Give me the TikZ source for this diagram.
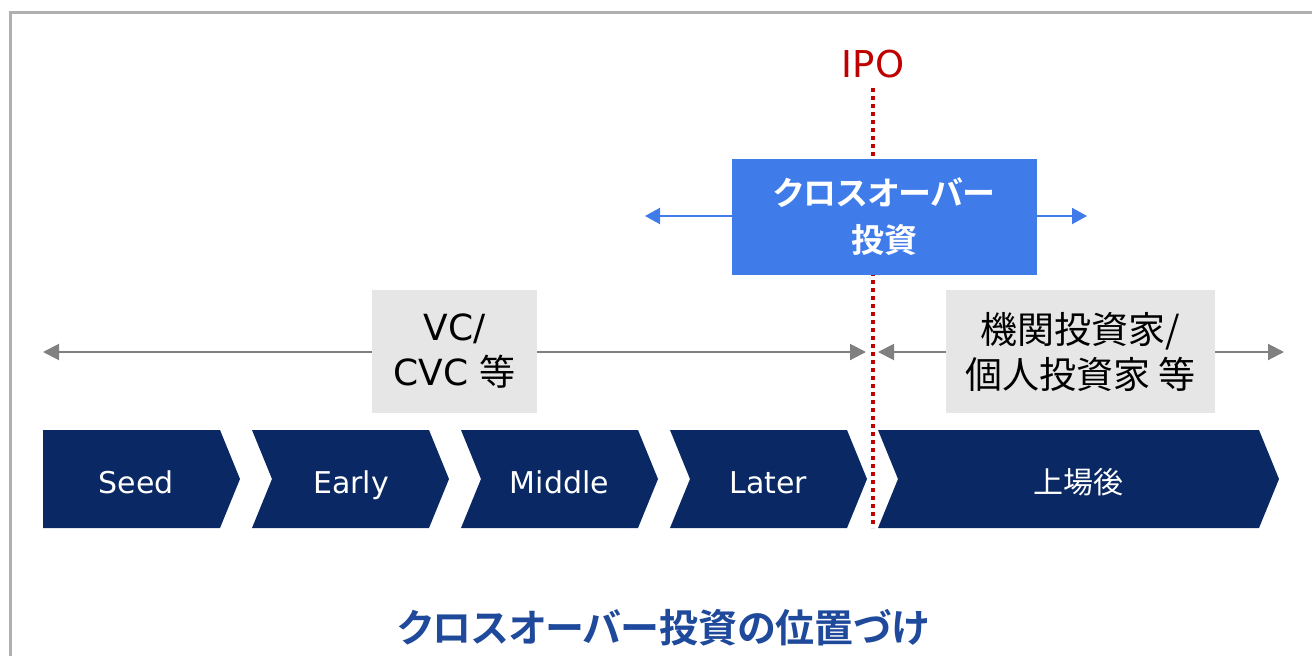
\documentclass[tikz,border=0pt]{standalone}
\usepackage{fontspec}
\setmainfont{DejaVu Sans}
\newfontfamily\jp{Noto Sans CJK JP}[BoldFont={Noto Sans CJK JP Bold}]
\newfontfamily\jpp{Noto Sans CJK JP}[BoldFont={Noto Sans CJK JP Bold},RawFeature=+palt]
\usetikzlibrary{arrows.meta}
\definecolor{navy}{RGB}{10,40,99}
\definecolor{crossblue}{RGB}{63,123,233}
\definecolor{boxgray}{RGB}{230,230,230}
\definecolor{arrowgray}{RGB}{128,128,128}
\definecolor{ipored}{RGB}{192,0,0}
\definecolor{framegray}{RGB}{176,176,176}
\definecolor{titleblue}{RGB}{31,73,155}
\tikzset{
  chev/.style={fill=navy},
  chevtext/.style={text=white, anchor=base, font=\fontsize{30}{36}\selectfont, inner sep=0pt},
  graybox/.style={fill=boxgray, minimum width=#1, minimum height=123pt, inner sep=0pt, align=center,
    font=\fontsize{36}{45}\selectfont, text=black},
  grayarrow/.style={draw=arrowgray, line width=2pt, -{Triangle[length=16pt,width=16pt]}},
  bluearrow/.style={draw=crossblue, line width=2pt, -{Triangle[length=15pt,width=16pt]}},
}
\begin{document}
\begin{tikzpicture}[x=1pt,y=-1pt]
\useasboundingbox (0,0) rectangle (1312,656);
% frame
\draw[framegray, line width=3pt] (10.5,662) -- (10.5,12.5) -- (1318,12.5);

% chevrons
\fill[chev] (43,430) -- (220,430) -- (240,479) -- (220,528) -- (43,528) -- cycle;
\fill[chev] (252,430) -- (429,430) -- (449,479) -- (429,528) -- (252,528) -- (272,479) -- cycle;
\fill[chev] (461,430) -- (638,430) -- (658,479) -- (638,528) -- (461,528) -- (481,479) -- cycle;
\fill[chev] (670,430) -- (847,430) -- (867,479) -- (847,528) -- (670,528) -- (690,479) -- cycle;
\fill[chev] (878,430) -- (1259,430) -- (1279,479) -- (1259,528) -- (878,528) -- (898,479) -- cycle;
\node[chevtext] (seed) at (136,493) {Seed};
\node[chevtext] (early) at (351,493) {Early};
\node[chevtext] (middle) at (559.5,493) {Middle};
\node[chevtext] (later) at (768.5,493) {Later};
\node[chevtext] (listed) at (1078.5,493) {\jp 上場後};

% IPO
\node[text=ipored, anchor=base, inner sep=0pt, font=\fontsize{37}{44}\selectfont] (ipo) at (873,77) {IPO};
\coordinate (ipotop) at (873,88);
\coordinate (ipobot) at (873,528);
\draw[ipored, line width=4pt, dash pattern=on 4pt off 4pt] (ipotop) -- (ipobot);

% gray boxes
\node[graybox=165pt] (vc) at (454.5,351.5) {VC/\\CVC {\jp 等}};
\node[graybox=269pt] (inv) at (1080.5,351.5) {\jp\fontsize{37}{45}\selectfont 機関投資家/\\\jp\fontsize{37}{45}\selectfont 個人投資家 等};
\coordinate (vcL) at (43,352);
\coordinate (vcR) at (866,352);
\coordinate (invL) at (878,352);
\coordinate (invR) at (1284,352);
\draw[grayarrow] (vc.west |- vcL) -- (vcL);
\draw[grayarrow] (vc.east |- vcR) -- (vcR);
\draw[grayarrow] (inv.west |- invL) -- (invL);
\draw[grayarrow] (inv.east |- invR) -- (invR);

% crossover box
\node[fill=crossblue, minimum width=305pt, minimum height=116pt, inner sep=0pt, align=center,
  text=white, font=\jpp\bfseries\fontsize{33}{47}\selectfont] (cross) at (884.5,217) {クロスオーバー\\投資};
\coordinate (crossL) at (645,216);
\coordinate (crossR) at (1087,216);
\draw[bluearrow] (cross.west |- crossL) -- (crossL);
\draw[bluearrow] (cross.east |- crossR) -- (crossR);

% title
\node[text=titleblue, anchor=base, inner sep=0pt, font=\jpp\bfseries\fontsize{39}{48}\selectfont] (title) at (663,642) {クロスオーバー投資の位置づけ};
\end{tikzpicture}
\end{document}
